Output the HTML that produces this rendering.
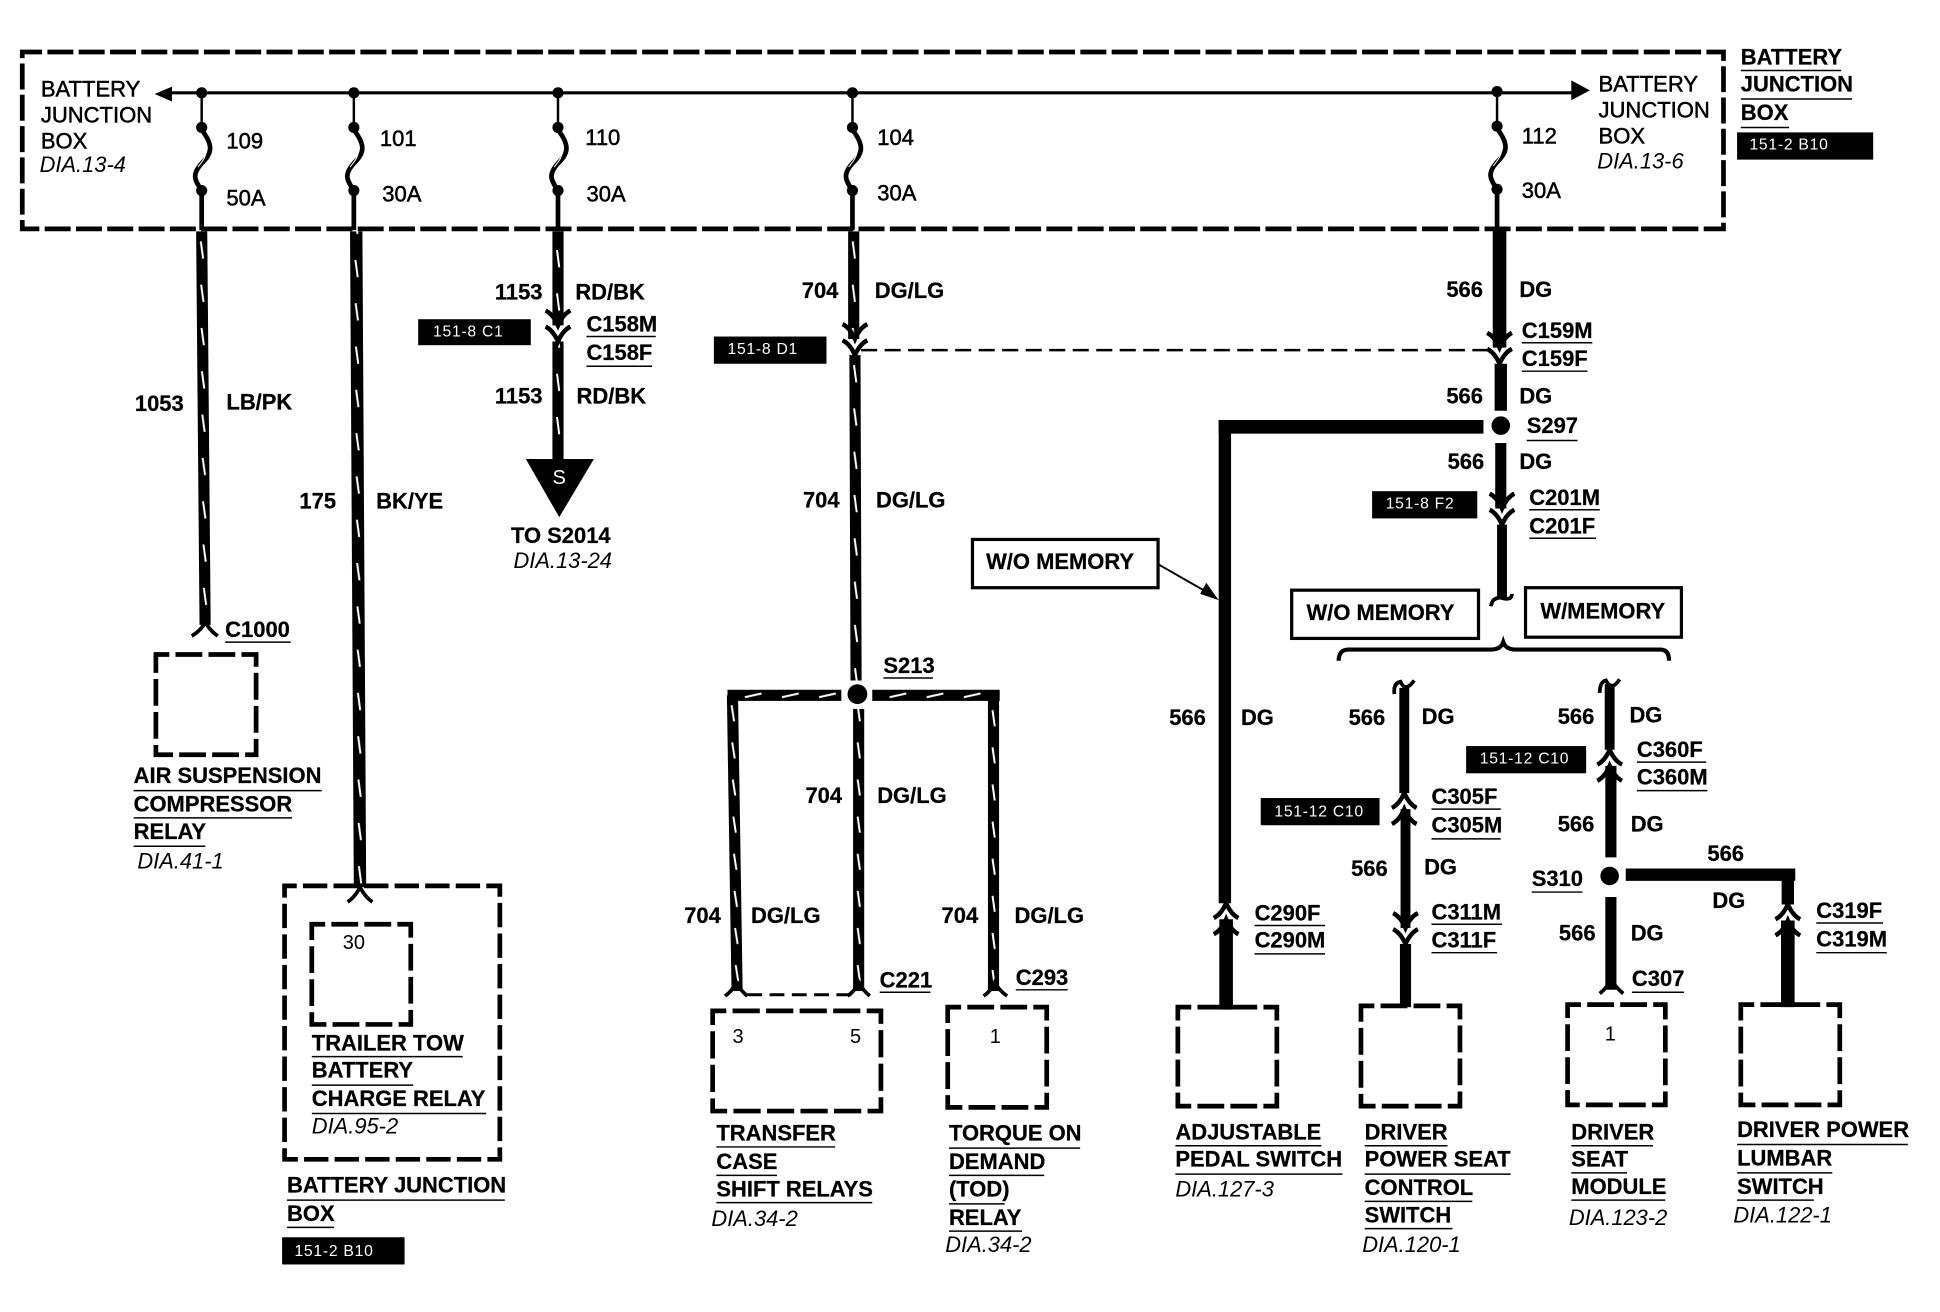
<!DOCTYPE html>
<html><head><meta charset="utf-8"><style>
html,body{margin:0;padding:0;background:#fff}
svg{display:block}
text{font-family:"Liberation Sans",sans-serif;fill:#000}
.b{font-size:17.75px;font-weight:bold;stroke:#000;stroke-width:.2}
.r{font-size:17.8px;stroke:#000;stroke-width:.4}
.i{font-size:17.7px;font-style:italic}
.t{font-size:12.7px;fill:#fff;letter-spacing:.6px}
.n{font-size:16.2px}
.d{fill:none;stroke:#000;stroke-width:3.8;stroke-dasharray:21.67 5;stroke-dashoffset:10.83}
.u{stroke:#000;stroke-width:1.2}
</style></head><body>
<svg width="1940" height="1312" viewBox="0 0 1568 1060.4" xmlns="http://www.w3.org/2000/svg">
<defs>
<pattern id="w" patternUnits="userSpaceOnUse" width="20" height="35" x="-10"><rect width="20" height="35" fill="#000"/><path d="M9.2 8L11 22" stroke="#fff" stroke-width="1.6"/></pattern>
<pattern id="v" patternUnits="userSpaceOnUse" width="20" height="30" x="-10"><rect width="20" height="30" fill="#000"/><path d="M9.2 8L11 21" stroke="#fff" stroke-width="1.6"/></pattern>
<pattern id="h" patternUnits="userSpaceOnUse" width="30" height="20" y="-10"><rect width="30" height="20" fill="#000"/><path d="M14 11.5L27.5 8.5" stroke="#fff" stroke-width="1.6"/></pattern>
<path id="y" d="M-10-6Q-4-3 0 6Q4-3 10-6" fill="none" stroke="#000" stroke-width="3.6"/>
<g id="dn"><use href="#y" y="-6"/><use href="#y" y="7"/></g>
<g id="up"><use href="#y" transform="translate(0,6) scale(1,-1)"/><use href="#y" transform="translate(0,-7) scale(1,-1)"/></g>
<g id="fu"><path d="M0 27V30C11 44 7 50 0 57C-8 66-6 70 0 79V111" fill="none" stroke="#000" stroke-width="3.8"/><path d="M4 47C3 53 0 56-3 60" fill="none" stroke="#fff" stroke-width=".8"/></g>
</defs>

<!-- junction box -->
<rect class="d" x="18" y="42" width="1375" height="143" style="stroke-dasharray:21 4.3;stroke-dashoffset:5"/>
<path d="M130 75H1274" stroke="#000" stroke-width="2.6"/>
<path d="M125 76L139 70V82Z M1285 73L1270 65V81Z"/>
<g>
<g transform="translate(163,75)"><circle r="4.5"/><path d="M0 0V28" stroke="#000" stroke-width="2"/><use href="#fu"/><circle cy="28" r="4.5"/><circle cy="79" r="4.5"/></g>
<g transform="translate(286,75)"><circle r="4.5"/><path d="M0 0V28" stroke="#000" stroke-width="2"/><use href="#fu"/><circle cy="28" r="4.5"/><circle cy="79" r="4.5"/></g>
<g transform="translate(451,75)"><circle r="4.5"/><path d="M0 0V28" stroke="#000" stroke-width="2"/><use href="#fu"/><circle cy="28" r="4.5"/><circle cy="79" r="4.5"/></g>
<g transform="translate(689,75)"><circle r="4.5"/><path d="M0 0V28" stroke="#000" stroke-width="2"/><use href="#fu"/><circle cy="28" r="4.5"/><circle cy="79" r="4.5"/></g>
<g transform="translate(1210,74)"><circle r="4.5"/><path d="M0 0V28" stroke="#000" stroke-width="2"/><use href="#fu"/><circle cy="28" r="4.5"/><circle cy="79" r="4.5"/></g>
</g>

<!-- tracer wires -->
<g transform="translate(163,187) skewX(.5)"><rect x="-4.5" width="9" height="318" fill="url(#w)"/></g>
<g transform="translate(288,202) skewX(.33)"><rect x="-5" y="-15" width="10" height="530" fill="url(#w)"/></g>
<g transform="translate(451,194)"><rect x="-4.5" y="-7" width="9" height="76" fill="url(#w)"/></g>
<g transform="translate(451,294)"><rect x="-4.5" y="-18" width="9" height="97" fill="url(#w)"/></g>
<g transform="translate(690,187)"><rect x="-4.5" width="9" height="87" fill="url(#w)"/></g>
<g transform="translate(691,287) skewX(.2)"><rect x="-4.5" width="9" height="263" fill="url(#w)"/></g>
<g transform="translate(592,562) skewX(.9)"><rect x="-4.5" width="9" height="239" fill="url(#v)"/></g>
<g transform="translate(694,562)"><rect x="-4.5" y="11" width="9" height="228" fill="url(#v)"/></g>
<g transform="translate(803,566)"><rect x="-4.5" y="-5" width="9" height="240" fill="url(#v)"/></g>
<g transform="translate(588,562)"><rect width="92" height="9" y="-4.5" fill="url(#h)"/></g>
<g transform="translate(705,562)"><rect width="103" height="9" y="-4.5" fill="url(#h)"/></g>

<!-- solid wires -->
<g stroke="#000" fill="none">
<path d="M1212 185V281" stroke-width="11"/>
<path d="M1213 294V332" stroke-width="10"/>
<path d="M1213 358V411" stroke-width="9"/>
<path d="M1214 424V484" stroke-width="8"/>
<path d="M985 345H1199" stroke-width="11"/>
<path d="M990 340V730" stroke-width="10"/>
<path d="M991 743V816" stroke-width="11"/>
<path d="M1135 556V641" stroke-width="8"/>
<path d="M1136 654V750" stroke-width="8"/>
<path d="M1136 763V814" stroke-width="9"/>
<path d="M1301 553V606" stroke-width="8"/>
<path d="M1302 619V693" stroke-width="9"/>
<path d="M1302 725V800" stroke-width="9"/>
<path d="M1314 707H1451" stroke-width="10"/>
<path d="M1445 703V731" stroke-width="10"/>
<path d="M1445 744V814" stroke-width="11"/>
<path d="M696 283H1204" stroke-width="2" stroke-dasharray="13 6"/>
<path d="M604 804H688" stroke-width="2.4" stroke-dasharray="12 6"/>
<path d="M936 456L978 480" stroke-width="1.6"/>
</g>
<path d="M985 485L970 480L975 471Z"/>
<path d="M425 371H480L452 418Z"/>
<text x="452" y="391" text-anchor="middle" class="n" style="fill:#fff">S</text>

<!-- connectors -->
<use href="#dn" x="451" y="263"/>
<use href="#dn" x="691" y="274"/>
<use href="#dn" x="1212" y="281"/>
<use href="#dn" x="1214" y="411"/>
<use href="#up" x="1135" y="654"/>
<use href="#dn" x="1136" y="750"/>
<use href="#up" x="1301" y="619"/>
<use href="#up" x="1445" y="744"/>
<use href="#up" x="991" y="743"/>
<g fill="none" stroke="#000" stroke-width="3">
<path d="M155 514Q162 510 166 503Q170 510 176 514"/>
<path d="M281 729Q287 725 291 717Q295 725 301 729"/>
<path d="M586 805Q592 801 595 794Q599 801 604 805"/>
<path d="M685 805Q691 801 694 794Q698 801 703 805"/>
<path d="M795 805Q801 801 804 794Q808 801 814 805"/>
<path d="M1293 803Q1299 798 1302 792Q1306 798 1312 803"/>
<path d="M1205 490Q1206 483 1213 483Q1222 486 1222 480"/>
<path d="M1127 561Q1126 552 1132 551Q1136 560 1143 550"/>
<path d="M1293 560Q1293 551 1298 550Q1303 559 1309 549"/>
<path d="M1082 534Q1082 525 1090 525H1205Q1213 525 1215 519Q1217 525 1225 525H1342Q1349 525 1349 534" stroke-width="3.4"/>
</g>

<!-- S213 / S297 / S310 -->
<circle cx="693" cy="561" r="8"/>
<circle cx="1213" cy="344" r="7.5"/>
<circle cx="1301" cy="708" r="7.5"/>

<!-- boxes -->
<rect class="d" x="126" y="529" width="81" height="81"/>
<rect class="d" x="230" y="716" width="174" height="221" style="stroke-dasharray:19.7 5;stroke-dashoffset:9.85"/>
<rect class="d" x="252" y="747" width="80" height="81"/>
<rect class="d" x="576" y="817" width="136" height="81" style="stroke-dasharray:22 5.1;stroke-dashoffset:11"/>
<rect class="d" x="766" y="814" width="80" height="81"/>
<rect class="d" x="952" y="814" width="80" height="80"/>
<rect class="d" x="1100" y="813" width="80" height="81"/>
<rect class="d" x="1267" y="812" width="79" height="81"/>
<rect class="d" x="1407" y="812" width="80" height="81"/>
<rect x="786" y="436" width="150" height="39" fill="#fff" stroke="#000" stroke-width="2.6"/>
<rect x="1044" y="477" width="151" height="39" fill="#fff" stroke="#000" stroke-width="2.6"/>
<rect x="1233" y="475" width="126" height="40" fill="#fff" stroke="#000" stroke-width="2.6"/>

<!-- tags -->
<rect x="338" y="258" width="91" height="21"/><text class="t" x="350" y="272">151-8 C1</text>
<rect x="577" y="272" width="91" height="22"/><text class="t" x="588" y="286">151-8 D1</text>
<rect x="1404" y="107" width="110" height="22"/><text class="t" x="1414" y="121">151-2 B10</text>
<rect x="1109" y="397" width="85" height="22"/><text class="t" x="1120" y="411">151-8 F2</text>
<rect x="1185" y="603" width="97" height="22"/><text class="t" x="1196" y="617">151-12 C10</text>
<rect x="1019" y="645" width="96" height="22"/><text class="t" x="1030" y="660">151-12 C10</text>
<rect x="228" y="1000" width="99" height="22"/><text class="t" x="238" y="1015">151-2 B10</text>

<!-- junction box text -->
<g class="r">
<text x="33" y="78">BATTERY</text><text x="33" y="99">JUNCTION</text><text x="33" y="120">BOX</text>
<text x="1292" y="74">BATTERY</text><text x="1292" y="95">JUNCTION</text><text x="1292" y="116">BOX</text>
<text x="183" y="120">109</text><text x="183" y="166">50A</text>
<text x="307" y="118">101</text><text x="309" y="163">30A</text>
<text x="473" y="117">110</text><text x="474" y="163">30A</text>
<text x="709" y="117">104</text><text x="709" y="162">30A</text>
<text x="1230" y="116">112</text><text x="1230" y="160">30A</text>
</g>
<text class="i" x="32" y="139">DIA.13-4</text>
<text class="i" x="1291" y="136">DIA.13-6</text>

<!-- bold labels -->
<g class="b">
<text x="1407" y="52">BATTERY</text><text x="1407" y="74">JUNCTION</text><text x="1407" y="97">BOX</text>
<text x="109" y="332">1053</text><text x="183" y="331">LB/PK</text>
<text x="242" y="411">175</text><text x="304" y="411">BK/YE</text>
<text x="400" y="242">1153</text><text x="465" y="242">RD/BK</text>
<text x="474" y="268">C158M</text><text x="474" y="291">C158F</text>
<text x="400" y="326">1153</text><text x="466" y="326">RD/BK</text>
<text x="413" y="439">TO S2014</text>
<text x="648" y="241">704</text><text x="707" y="241">DG/LG</text>
<text x="649" y="410">704</text><text x="708" y="410">DG/LG</text>
<text x="714" y="544">S213</text>
<text x="651" y="649">704</text><text x="709" y="649">DG/LG</text>
<text x="553" y="746">704</text><text x="607" y="746">DG/LG</text>
<text x="761" y="746">704</text><text x="820" y="746">DG/LG</text>
<text x="711" y="798">C221</text><text x="821" y="796">C293</text>
<text x="1169" y="240">566</text><text x="1228" y="240">DG</text>
<text x="1230" y="273">C159M</text><text x="1230" y="296">C159F</text>
<text x="1169" y="326">566</text><text x="1228" y="326">DG</text>
<text x="1234" y="350">S297</text>
<text x="1170" y="379">566</text><text x="1228" y="379">DG</text>
<text x="1236" y="408">C201M</text><text x="1236" y="431">C201F</text>
<text x="945" y="586">566</text><text x="1003" y="586">DG</text>
<text x="1014" y="744">C290F</text><text x="1014" y="766">C290M</text>
<text x="1090" y="586">566</text><text x="1149" y="585">DG</text>
<text x="1157" y="650">C305F</text><text x="1157" y="673">C305M</text>
<text x="1092" y="708">566</text><text x="1151" y="707">DG</text>
<text x="1157" y="743">C311M</text><text x="1157" y="766">C311F</text>
<text x="1259" y="585">566</text><text x="1317" y="584">DG</text>
<text x="1323" y="612">C360F</text><text x="1323" y="634">C360M</text>
<text x="1259" y="672">566</text><text x="1318" y="672">DG</text>
<text x="1238" y="716">S310</text>
<text x="1380" y="696">566</text><text x="1384" y="734">DG</text>
<text x="1260" y="760">566</text><text x="1318" y="760">DG</text>
<text x="1468" y="742">C319F</text><text x="1468" y="765">C319M</text>
<text x="1319" y="797">C307</text>
<text x="182" y="515">C1000</text>
<text x="108" y="633">AIR SUSPENSION</text><text x="108" y="656">COMPRESSOR</text><text x="108" y="678">RELAY</text>
<text x="252" y="849">TRAILER TOW</text><text x="252" y="871">BATTERY</text><text x="252" y="894">CHARGE RELAY</text>
<text x="232" y="964">BATTERY JUNCTION</text><text x="232" y="987">BOX</text>
<text x="579" y="922">TRANSFER</text><text x="579" y="945">CASE</text><text x="579" y="967">SHIFT RELAYS</text>
<text x="767" y="922">TORQUE ON</text><text x="767" y="945">DEMAND</text><text x="767" y="967">(TOD)</text><text x="767" y="990">RELAY</text>
<text x="950" y="921">ADJUSTABLE</text><text x="950" y="943">PEDAL SWITCH</text>
<text x="1103" y="921">DRIVER</text><text x="1103" y="943">POWER SEAT</text><text x="1103" y="966">CONTROL</text><text x="1103" y="988">SWITCH</text>
<text x="1270" y="921">DRIVER</text><text x="1270" y="943">SEAT</text><text x="1270" y="965">MODULE</text>
<text x="1404" y="919">DRIVER POWER</text><text x="1404" y="942">LUMBAR</text><text x="1404" y="965">SWITCH</text>
<text x="797" y="460">W/O MEMORY</text><text x="1056" y="501">W/O MEMORY</text><text x="1245" y="500">W/MEMORY</text>
</g>

<!-- underlines -->
<path class="u" d="M1407 57H1488M1407 80H1497M1407 103H1446M474 272H530M474 296H527M714 548H754M711 802H752M821 800H863M1230 277H1287M1230 300H1283M1234 356H1275M1236 412H1293M1236 435H1290M1014 748H1071M1014 771H1071M1157 654H1213M1157 678H1213M1157 747H1214M1157 770H1210M1323 616H1379M1323 639H1380M1238 721H1279M1468 746H1522M1468 770H1525M1319 802H1361M182 519H235M108 639H260M108 661H236M108 684H166M252 854H374M252 877H334M252 900H393M232 970H408M232 992H270M579 927H675M579 950H628M579 972H705M767 928H873M767 950H844M767 973H812M767 995H826M950 926H1068M950 949H1085M1103 926H1170M1103 949H1221M1103 971H1190M1103 993H1174M1270 926H1336M1270 948H1315M1270 970H1346M1404 925H1542M1404 948H1481M1404 970H1466"/>

<!-- italic refs -->
<g class="i">
<text x="415" y="459">DIA.13-24</text>
<text x="111" y="702">DIA.41-1</text>
<text x="252" y="916">DIA.95-2</text>
<text x="575" y="991">DIA.34-2</text>
<text x="764" y="1012">DIA.34-2</text>
<text x="950" y="967">DIA.127-3</text>
<text x="1101" y="1012">DIA.120-1</text>
<text x="1268" y="990">DIA.123-2</text>
<text x="1401" y="988">DIA.122-1</text>
</g>

<!-- pin numbers -->
<g class="n">
<text x="277" y="767">30</text>
<text x="592" y="843">3</text>
<text x="687" y="843">5</text>
<text x="800" y="843">1</text>
<text x="1297" y="841">1</text>
</g>
</svg>
</body></html>
